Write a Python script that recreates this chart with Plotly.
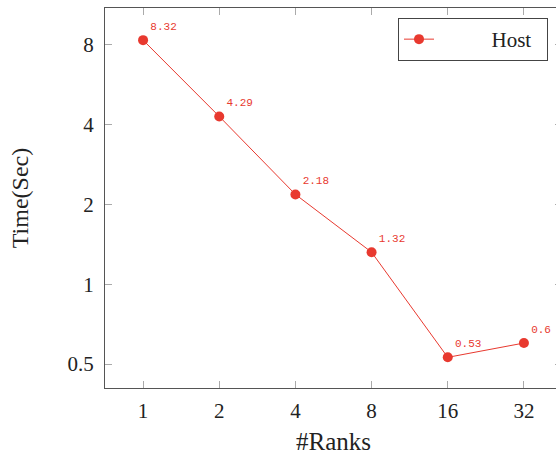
import math
import plotly.graph_objects as go

ranks = [1, 2, 4, 8, 16, 32]
rank_labels = ["1", "2", "4", "8", "16", "32"]
host_time = [8.32, 4.29, 2.18, 1.32, 0.53, 0.6]
host_labels = ["8.32", "4.29", "2.18", "1.32", "0.53", "0.6"]
y_ticks = [0.5, 1, 2, 4, 8]
y_tick_labels = ["0.5", "1", "2", "4", "8"]

RED = "#e8392f"
SERIF = "Liberation Serif"
MONO = "Liberation Mono"
NB = "\u00a0"

fig = go.Figure()
fig.add_trace(go.Scatter(
    x=ranks, y=host_time, mode="lines+markers+text",
    name=NB * 10 + "Host" + NB * 2,
    line=dict(color=RED, width=1),
    marker=dict(color=RED, size=10),
    text=host_labels, textposition="top right",
    textfont=dict(family=MONO, size=11, color=RED),
    cliponaxis=True,
))

L2 = math.log10(2)
W = 562
fig.update_layout(
    width=W, height=455,
    margin=dict(l=105, r=0, t=8, b=67),
    paper_bgcolor="white", plot_bgcolor="white",
    font=dict(family=SERIF, size=21, color="#222"),
    showlegend=True,
    legend=dict(
        x=(548 - 105) / (W - 105), y=0.9737, xanchor="right", yanchor="top",
        bordercolor="#444", borderwidth=1, bgcolor="white",
        font=dict(family=SERIF, size=21, color="#222"),
    ),
)
fig.update_xaxes(
    type="log", range=[-0.5 * L2, 5.5 * L2],
    tickvals=ranks, ticktext=rank_labels,
    ticks="inside", ticklen=7, tickcolor="#aaaaaa", tickwidth=1,
    showline=True, linecolor="#555555", linewidth=1.3, mirror="allticks",
    showgrid=False, zeroline=False,
    ticklabelstandoff=4,
    title=dict(text="#Ranks", standoff=12, font=dict(family=SERIF, size=25)),
)
fig.update_yaxes(
    type="log", range=[-1.3 * L2, 3.459 * L2],
    tickvals=y_ticks, ticktext=y_tick_labels,
    ticks="inside", ticklen=7, tickcolor="#aaaaaa", tickwidth=1,
    showline=True, linecolor="#555555", linewidth=1.3, mirror="allticks",
    showgrid=False, zeroline=False,
    ticklabelstandoff=6,
    title=dict(text="Time(Sec)", standoff=32, font=dict(family=SERIF, size=24)),
)

fig.write_html(
    "out.html",
    config={"displayModeBar": False},
    post_script="document.body.style.margin='0';document.body.style.overflow='hidden';",
)
